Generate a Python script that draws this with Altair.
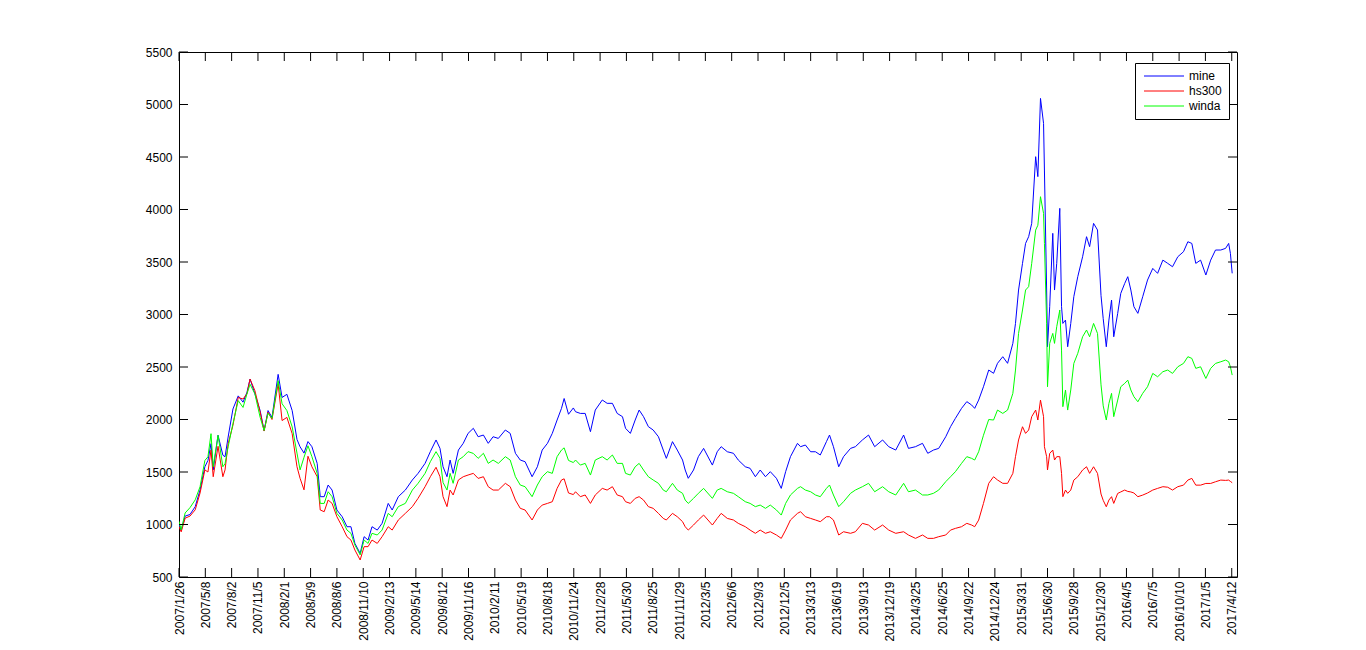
import json
import altair as alt
import pandas as pd

# trading-day index of each sampled point
idx = [0, 5, 14, 25, 37, 48, 59, 66, 73, 78, 89, 100, 105, 112, 123, 135, 146, 155, 162, 173,
       185, 194, 203, 212, 226, 235, 246, 258, 269, 276, 285, 294, 303, 315, 322, 331, 340, 349,
       360, 372, 383, 392, 401, 413, 422, 431, 440, 452, 463, 477, 486, 500, 516, 532, 545, 561,
       573, 586, 595, 602, 611, 618, 625, 637, 648, 659, 671, 682, 694, 705, 716, 728, 744, 755,
       767, 778, 789, 805, 817, 828, 840, 851, 862, 872, 878, 888, 899, 904, 915, 926, 938, 949,
       965, 976, 988, 999, 1011, 1018, 1029, 1040, 1049, 1059, 1070, 1081, 1093, 1104, 1111, 1125,
       1136, 1148, 1154, 1161, 1173, 1184, 1196, 1216, 1227, 1236, 1250, 1264, 1275, 1291, 1302,
       1314, 1325, 1337, 1348, 1362, 1373, 1383, 1394, 1410, 1417, 1428, 1440, 1451, 1462, 1476,
       1483, 1492, 1504, 1515, 1531, 1542, 1558, 1572, 1586, 1604, 1618, 1634, 1652, 1663, 1679,
       1695, 1707, 1720, 1732, 1748, 1759, 1770, 1784, 1796, 1807, 1814, 1823, 1834, 1846, 1857,
       1866, 1878, 1889, 1901, 1907, 1914, 1923, 1930, 1937, 1944, 1953, 1958, 1964, 1971, 1973,
       1978, 1980, 1985, 1992, 1996, 2001, 2008, 2012, 2015, 2021, 2026, 2033, 2040, 2049, 2060,
       2069, 2076, 2085, 2094, 2102, 2107, 2114, 2120, 2126, 2131, 2140, 2147, 2156, 2163, 2170,
       2177, 2186, 2197, 2208, 2220, 2231, 2243, 2254, 2265, 2277, 2290, 2300, 2309, 2318, 2329,
       2341, 2352, 2363, 2375, 2386, 2393, 2397, 2401]

mine = [1000, 945, 1080, 1095, 1170, 1330, 1550, 1610, 1770, 1520, 1850, 1660, 1645, 1833, 2100,
        2225, 2165, 2260, 2385, 2245, 2085, 1895, 2085, 2020, 2430, 2210, 2240, 2085, 1810, 1740,
        1680, 1790, 1741, 1582, 1265, 1265, 1376, 1328, 1138, 1074, 979, 979, 820, 725, 884, 852,
        979, 947, 1011, 1201, 1138, 1265, 1328, 1424, 1487, 1582, 1694, 1805, 1725, 1550, 1455,
        1614, 1487, 1709, 1773, 1868, 1916, 1836, 1852, 1773, 1836, 1820, 1900, 1868, 1678, 1614,
        1598, 1455, 1550, 1709, 1773, 1868, 1995, 2106, 2200, 2050, 2110, 2074, 2058, 2058, 1884,
        2090, 2186, 2154, 2154, 2058, 2027, 1916, 1868, 1995, 2090, 2027, 1932, 1900, 1836, 1709,
        1630, 1789, 1709, 1614, 1519, 1440, 1519, 1646, 1725, 1566, 1693, 1741, 1693, 1678, 1614,
        1550, 1535, 1455, 1519, 1455, 1503, 1440, 1344, 1503, 1646, 1773, 1741, 1757, 1693, 1693,
        1662, 1789, 1852, 1741, 1550, 1646, 1725, 1741, 1805, 1852, 1741, 1805, 1741, 1709, 1852,
        1725, 1741, 1773, 1678, 1709, 1725, 1836, 1932, 2011, 2106, 2170, 2138, 2106, 2185, 2312,
        2471, 2440, 2535, 2598, 2535, 2725, 2915, 3233, 3487, 3677, 3741, 3868, 4503, 4313, 5058,
        4820, 4376, 3233, 2693, 3074, 3773, 3233, 3487, 4011, 3074, 2915, 2947, 2693, 2915, 3170,
        3360, 3550, 3741, 3646, 3868, 3805, 3180, 2960, 2693, 2947, 3138, 2788, 3011, 3201, 3296,
        3360, 3233, 3074, 3011, 3169, 3328, 3439, 3392, 3518, 3487, 3455, 3550, 3598, 3693, 3677,
        3487, 3518, 3376, 3518, 3614, 3614, 3630, 3677, 3582, 3392]

hs300 = [980, 930, 1060, 1080, 1140, 1300, 1520, 1500, 1710, 1455, 1745, 1455, 1520, 1770, 1945,
         2210, 2195, 2245, 2385, 2275, 2070, 1890, 2070, 2000, 2340, 1990, 2020, 1865, 1550, 1440,
         1330, 1650, 1550, 1455, 1138, 1122, 1233, 1201, 1074, 979, 884, 852, 757, 662, 789, 789,
         852, 820, 884, 979, 947, 1043, 1106, 1170, 1249, 1360, 1455, 1545, 1455, 1265, 1170,
         1328, 1281, 1424, 1455, 1471, 1487, 1439, 1455, 1360, 1328, 1328, 1392, 1360, 1233, 1154,
         1138, 1043, 1138, 1185, 1201, 1217, 1344, 1424, 1435, 1300, 1285, 1312, 1265, 1281, 1201,
         1281, 1344, 1328, 1360, 1281, 1265, 1217, 1201, 1249, 1265, 1233, 1170, 1154, 1106, 1058,
         1043, 1106, 1074, 1027, 979, 947, 995, 1043, 1090, 995, 1058, 1106, 1058, 1043, 1011,
         979, 947, 916, 947, 916, 931, 900, 868, 947, 1043, 1106, 1122, 1074, 1058, 1043,
         1027, 1074, 1074, 1043, 900, 931, 916, 931, 1011, 995, 947, 995, 947, 916, 931,
         900, 868, 900, 868, 868, 884, 900, 947, 963, 979, 1011, 995, 979, 1042, 1201,
         1392, 1455, 1424, 1392, 1392, 1487, 1646, 1805, 1931, 1868, 1900, 2027, 2090, 1995, 2185,
         2027, 1741, 1646, 1519, 1677, 1709, 1614, 1646, 1646, 1487, 1265, 1328, 1297, 1328, 1423,
         1455, 1519, 1550, 1487, 1550, 1487, 1290, 1230, 1169, 1233, 1265, 1201, 1296, 1310, 1328,
         1315, 1310, 1300, 1265, 1280, 1300, 1328, 1344, 1360, 1355, 1328, 1360, 1375, 1423, 1439,
         1375, 1375, 1391, 1391, 1407, 1423, 1420, 1423, 1410, 1398]

winda = [1030, 950, 1110, 1160, 1235, 1360, 1610, 1645, 1865, 1550, 1850, 1550, 1580, 1740, 1960,
         2180, 2115, 2245, 2335, 2245, 2020, 1895, 2060, 2010, 2370, 2150, 2085, 1930, 1680, 1520,
         1640, 1750, 1646, 1487, 1201, 1201, 1312, 1265, 1106, 1043, 947, 916, 805, 710, 852, 820,
         916, 900, 947, 1106, 1074, 1170, 1201, 1328, 1392, 1487, 1598, 1694, 1630, 1400, 1328,
         1487, 1392, 1614, 1646, 1694, 1677, 1630, 1678, 1582, 1614, 1582, 1646, 1614, 1455, 1376,
         1360, 1265, 1376, 1455, 1503, 1487, 1646, 1709, 1730, 1610, 1590, 1614, 1566, 1582, 1471,
         1614, 1646, 1614, 1662, 1582, 1582, 1487, 1471, 1550, 1582, 1519, 1455, 1424, 1392, 1328,
         1312, 1392, 1328, 1297, 1233, 1201, 1249, 1297, 1344, 1249, 1328, 1344, 1312, 1297, 1265,
         1217, 1201, 1170, 1185, 1154, 1185, 1138, 1090, 1201, 1281, 1344, 1360, 1328, 1312, 1281,
         1265, 1344, 1376, 1281, 1170, 1217, 1297, 1328, 1360, 1392, 1312, 1360, 1312, 1281, 1392,
         1312, 1328, 1281, 1281, 1297, 1328, 1408, 1455, 1503, 1582, 1646, 1630, 1614, 1693, 1850,
         2000, 1995, 2090, 2058, 2090, 2249, 2471, 2820, 3043, 3233, 3265, 3487, 3804, 3850, 4122,
         3963, 3677, 2915, 2312, 2725, 2820, 2725, 2884, 3043, 2661, 2122, 2281, 2090, 2281, 2534,
         2630, 2788, 2852, 2788, 2915, 2820, 2330, 2130, 1995, 2153, 2249, 2027, 2185, 2312, 2344,
         2375, 2281, 2217, 2169, 2249, 2312, 2439, 2407, 2455, 2471, 2439, 2502, 2534, 2598, 2582,
         2487, 2502, 2391, 2487, 2534, 2550, 2566, 2550, 2502, 2423]

series_names = ["mine", "hs300", "winda"]
series_colors = ["#0000ff", "#ff0000", "#00ff00"]

tick_idx = list(range(0, 2401, 60))
tick_labels = ["2007/1/26", "2007/5/8", "2007/8/2", "2007/11/5", "2008/2/1", "2008/5/9",
               "2008/8/6", "2008/11/10", "2009/2/13", "2009/5/14", "2009/8/12", "2009/11/16",
               "2010/2/11", "2010/5/19", "2010/8/18", "2010/11/24", "2011/2/28", "2011/5/30",
               "2011/8/25", "2011/11/29", "2012/3/5", "2012/6/6", "2012/9/3", "2012/12/5",
               "2013/3/13", "2013/6/19", "2013/9/13", "2013/12/19", "2014/3/25", "2014/6/25",
               "2014/9/22", "2014/12/24", "2015/3/31", "2015/6/30", "2015/9/28", "2015/12/30",
               "2016/4/5", "2016/7/5", "2016/10/10", "2017/1/5", "2017/4/12"]
y_ticks = list(range(500, 5501, 500))

rows = []
for name, vals in zip(series_names, [mine, hs300, winda]):
    for i, v in zip(idx, vals):
        rows.append({"i": i, "v": v, "series": name})
df = pd.DataFrame(rows)
xt_df = pd.DataFrame({"i": tick_idx})
yt_df = pd.DataFrame({"v": y_ticks})

W, H = 1058, 525
FONT = "Liberation Sans"
xscale = alt.Scale(domain=[0, 2412], nice=False, zero=False)
yscale = alt.Scale(domain=[500, 5500], nice=False, zero=False)

label_expr = json.dumps(tick_labels) + "[round(datum.value / 60)]"

xaxis = alt.Axis(values=tick_idx, labelExpr=label_expr, labelAngle=270,
                 labelPadding=4, ticks=False, grid=False, domain=False,
                 labelFont=FONT, labelFontSize=12, labelColor="black",
                 labelOverlap=False, labelBound=False, labelFlush=False)
yaxis = alt.Axis(values=y_ticks, format="d", ticks=False, grid=False, domain=False,
                 labelPadding=7, labelFont=FONT, labelFontSize=12,
                 labelColor="black", minExtent=171, maxExtent=171,
                 labelOverlap=False, labelFlush=False)


def X(field):
    return alt.X(field, scale=xscale, title=None, axis=xaxis)


def Y(field):
    return alt.Y(field, scale=yscale, title=None, axis=yaxis)


lines = alt.Chart(df).mark_line(strokeWidth=1, clip=True).encode(
    x=X("i:Q"),
    y=Y("v:Q"),
    color=alt.Color("series:N", title=None,
                    scale=alt.Scale(domain=series_names, range=series_colors),
                    legend=alt.Legend(orient="none", legendX=956, legendY=11,
                                      symbolType="M-1,0H9", symbolSize=64,
                                      symbolStrokeWidth=1, labelOffset=35,
                                      padding=7, strokeColor="black", fillColor="white",
                                      labelFont=FONT, labelFontSize=12, labelColor="black",
                                      rowPadding=3)),
)

tick_len = 9
left_ticks = alt.Chart(yt_df).mark_rule(color="black", strokeWidth=1).encode(
    y=Y("v:Q"), x=alt.value(0), x2=alt.value(tick_len))
right_ticks = alt.Chart(yt_df).mark_rule(color="black", strokeWidth=1).encode(
    y=Y("v:Q"), x=alt.value(W - tick_len), x2=alt.value(W))
bottom_ticks = alt.Chart(xt_df).mark_rule(color="black", strokeWidth=1).encode(
    x=X("i:Q"), y=alt.value(H - tick_len), y2=alt.value(H))
top_ticks = alt.Chart(xt_df).mark_rule(color="black", strokeWidth=1).encode(
    x=X("i:Q"), y=alt.value(0), y2=alt.value(tick_len))

chart = alt.layer(lines, left_ticks, right_ticks, bottom_ticks, top_ticks).properties(
    width=W, height=H, background="white",
    padding={"left": 0, "top": 38, "right": 5, "bottom": 5},
).configure_view(stroke="black", strokeWidth=1)

chart.save("out.html", embed_options={"renderer": "svg", "actions": False})
